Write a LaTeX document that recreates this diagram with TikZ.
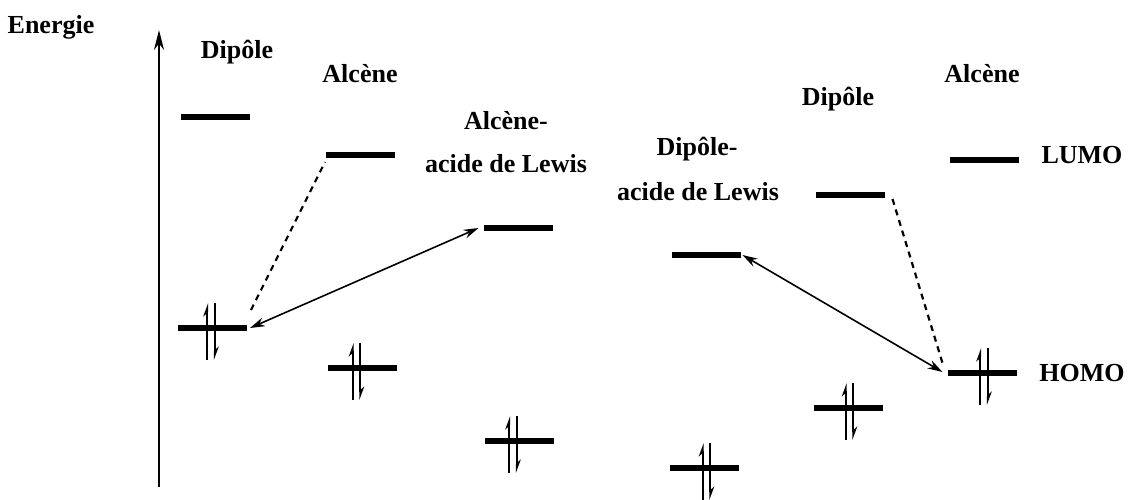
\documentclass[tikz,border=0pt]{standalone}
\usepackage{fontspec}
\setmainfont{Liberation Serif}[BoldFont={Liberation Serif Bold}]
\usetikzlibrary{arrows.meta,calc}
\begin{document}
\begin{tikzpicture}[x=1pt,y=-1pt,
  level/.style={fill=black, minimum width=69pt, minimum height=6pt, inner sep=0pt, outer sep=0pt},
  lab/.style={font=\fontsize{26}{30}\selectfont\bfseries, anchor=base, inner sep=0pt},
  elec/.style={line width=1.8pt, -{Stealth[harpoon,length=11pt,width=8pt]}},
  dashedline/.style={line width=2.2pt, dash pattern=on 6pt off 5pt},
  inter/.style={line width=1.6pt, {Stealth[length=15pt,width=9pt]}-{Stealth[length=15pt,width=9pt]}},
  epair/.pic={\draw[elec] (-3.75,32) -- (-3.75,-25); \draw[elec] (3.75,-25) -- (3.75,32);}
]
\useasboundingbox (0,0) rectangle (1130,499);
% axis
\coordinate (ax0) at (159,487);
\coordinate (ax1) at (159,30);
\draw[line width=1.8pt, -{Stealth[length=20pt,width=10pt]}] (ax0) -- (ax1);
% labels
\node[lab] (tEn) at (51,33) {Energie};
\node[lab] (tD1) at (237,58) {Dipôle};
\node[lab] (tA1) at (360,82) {Alcène};
\node[lab] (tAA1) at (506,129) {Alcène-};
\node[lab] (tAA2) at (506,172) {acide de Lewis};
\node[lab] (tDA1) at (697,155) {Dipôle-};
\node[lab] (tDA2) at (698,200) {acide de Lewis};
\node[lab] (tD2) at (838,105) {Dipôle};
\node[lab] (tA2) at (982,82) {Alcène};
\node[lab] (tL) at (1082,163) {LUMO};
\node[lab] (tH) at (1082,381) {HOMO};
% LUMO levels
\node[level] (lD1) at (215.5,117) {};
\node[level] (lA1) at (360.5,155) {};
\node[level] (lAA) at (518,228) {};
\node[level] (lDA) at (706,255) {};
\node[level] (lD2) at (850,195) {};
\node[level] (lA2) at (984,160) {};
% HOMO levels
\node[level] (hD1) at (212.5,328) {};
\node[level] (hA1) at (362.5,368) {};
\node[level] (hAA) at (519.5,441) {};
\node[level] (hDA) at (704.5,468) {};
\node[level] (hD2) at (848,408) {};
\node[level] (hA2) at (982,373) {};
% electron pairs
\pic at (211,328) {epair};
\pic at (356.5,368) {epair};
\pic at (513,441) {epair};
\pic at (706.5,468) {epair};
\pic at (849.5,408) {epair};
\pic at (984,373) {epair};
% interactions
\draw[dashedline] ($(hD1.north east)+(4,-15)$) -- ($(lA1.west)+(-1,7)$);
\draw[inter] ($(hD1.east)+(3,0)$) -- ($(lAA.west)+(-5,0)$);
\draw[dashedline] ($(lD2.east)+(8,4)$) -- ($(hA2.west)+(-5,-10)$);
\draw[inter] ($(lDA.east)+(2,0)$) -- ($(hA2.west)+(-5,-1)$);
\end{tikzpicture}
\end{document}
